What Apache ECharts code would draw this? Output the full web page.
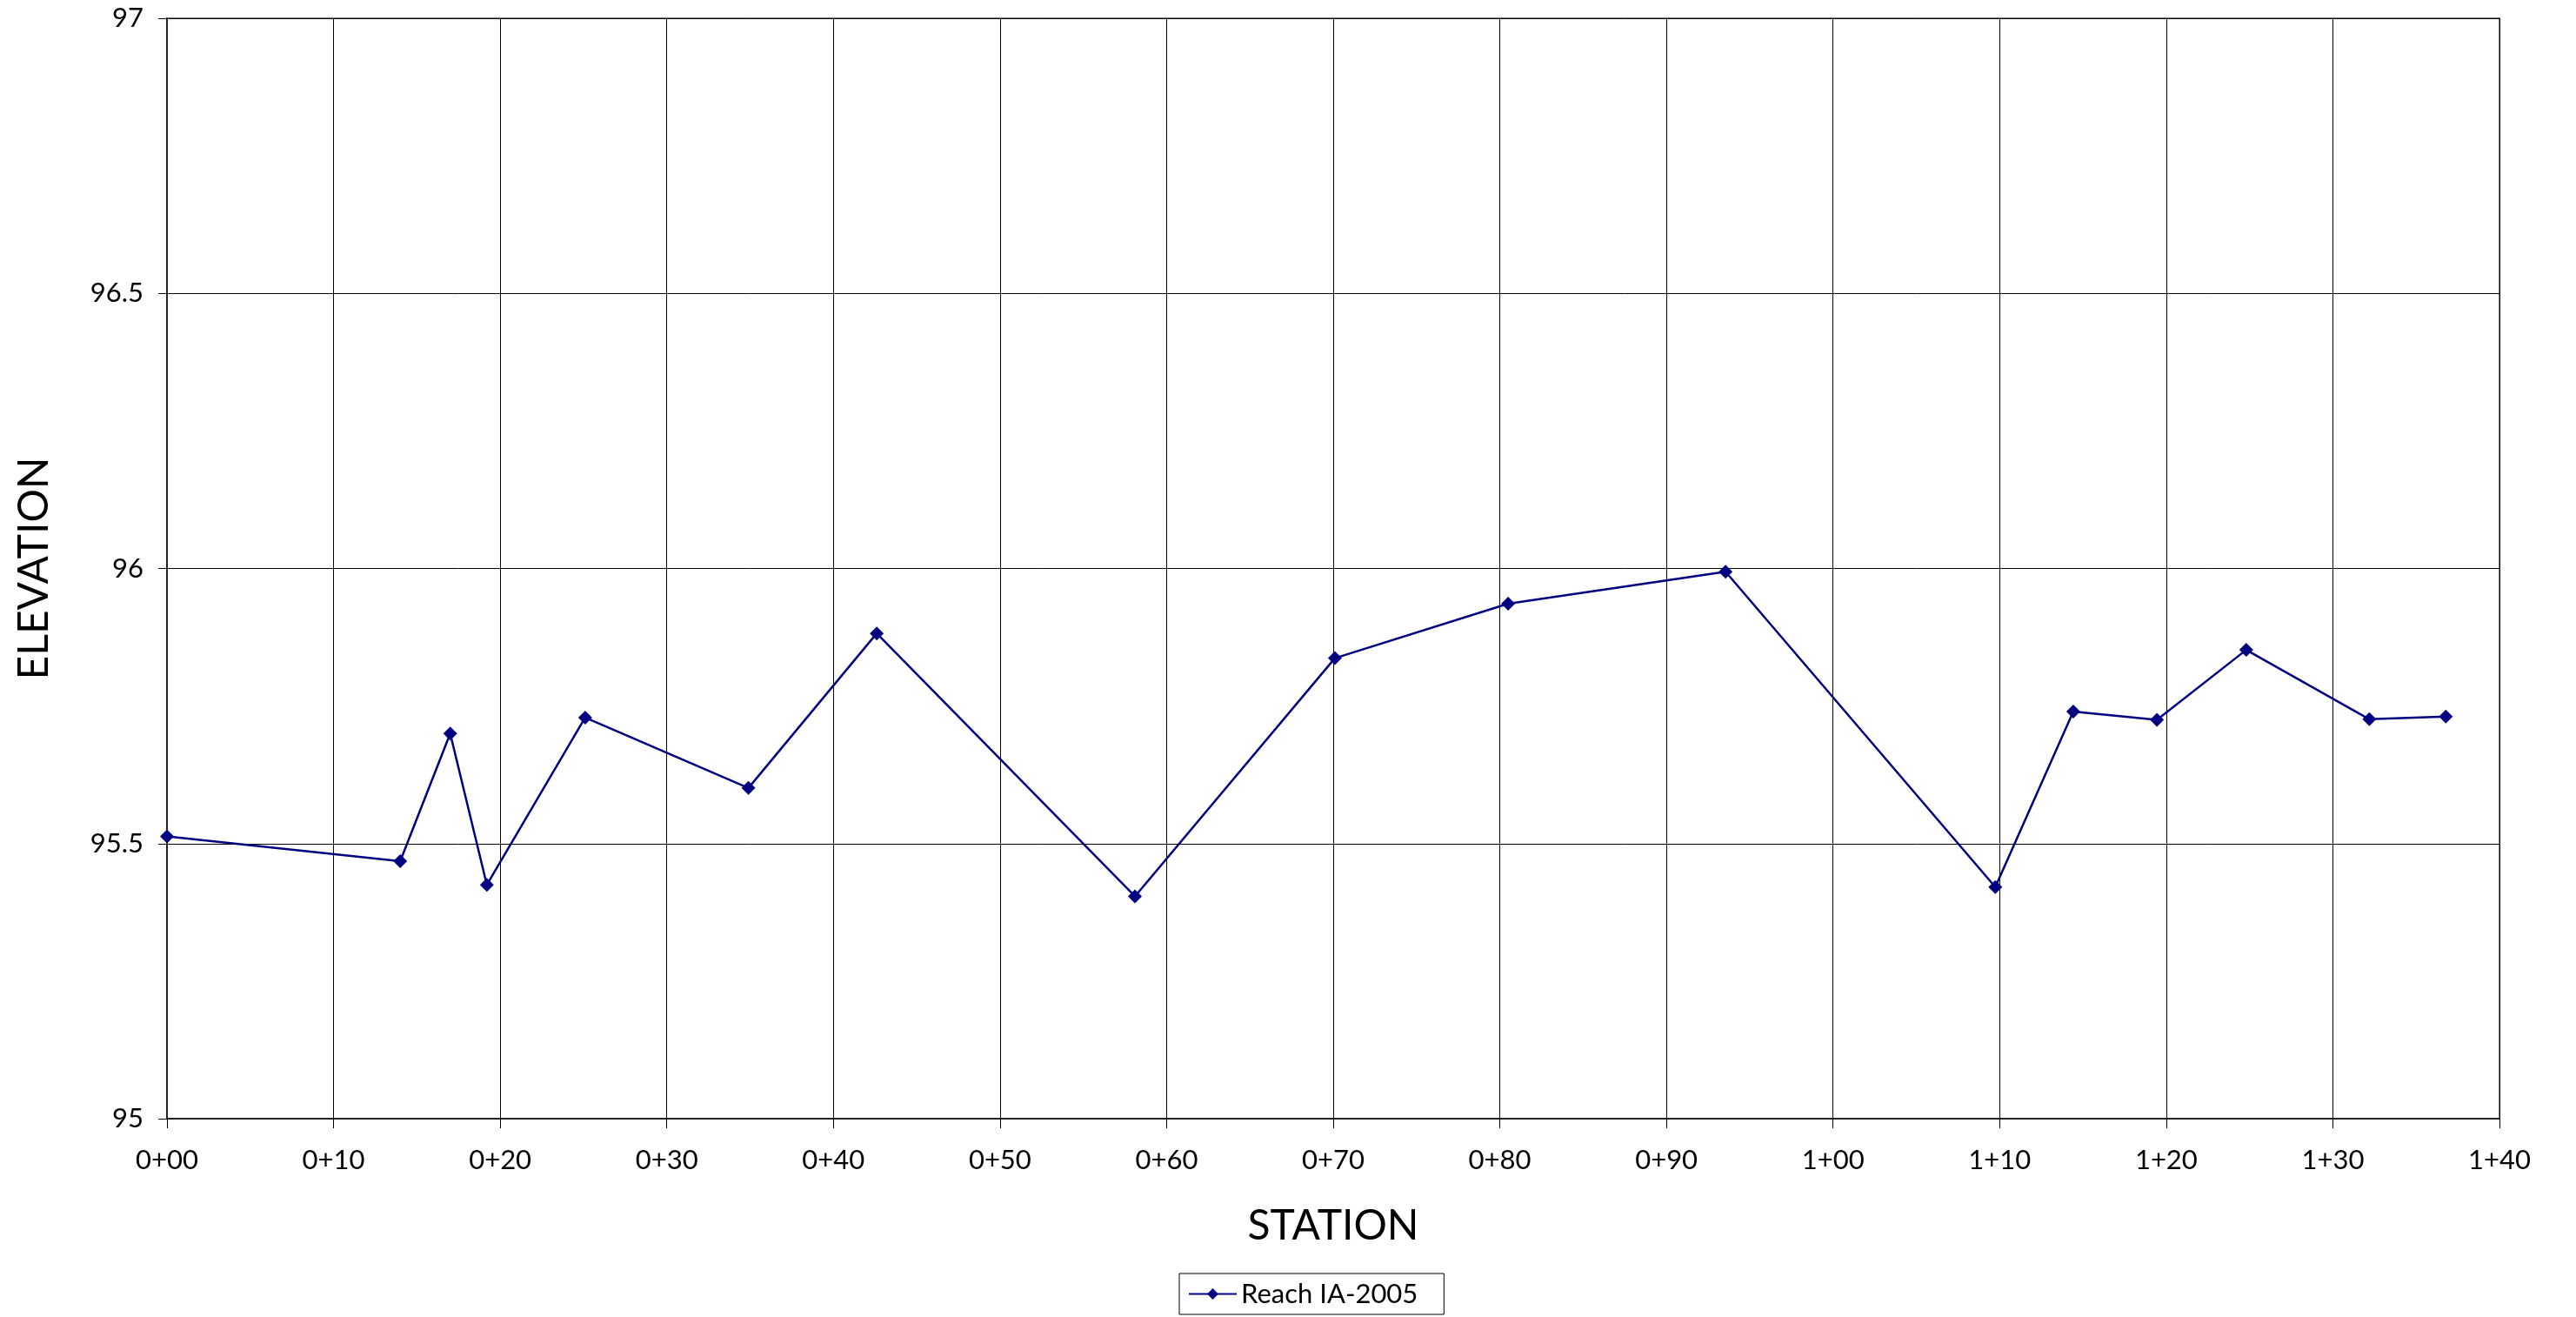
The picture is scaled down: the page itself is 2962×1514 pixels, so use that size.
<!DOCTYPE html>
<html>
<head>
<meta charset="utf-8">
<script src="https://cdn.jsdelivr.net/npm/echarts@6/dist/echarts.min.js"></script>
<style>
html,body{margin:0;padding:0;background:#fff;}
#chart{width:2962px;height:1514px;}
</style>
</head>
<body>
<div id="chart"></div>
<script>
// Data
var stations = [0, 14.0, 17.0, 19.2, 25.1, 34.9, 42.6, 58.1, 70.1, 80.5, 93.55, 109.74, 114.42, 119.44, 124.8, 132.19, 136.78];
var elevations = [95.513, 95.468, 95.700, 95.425, 95.729, 95.601, 95.882, 95.404, 95.837, 95.936, 95.994, 95.421, 95.740, 95.725, 95.852, 95.726, 95.731];
var xTickLabels = ['0+00','0+10','0+20','0+30','0+40','0+50','0+60','0+70','0+80','0+90','1+00','1+10','1+20','1+30','1+40'];
var yTickLabels = ['95','95.5','96','96.5','97'];
var seriesName = 'Reach IA-2005';

var FONT = 'Lato, "DejaVu Sans", sans-serif';
var chart = echarts.init(document.getElementById('chart'));
var pts = stations.map(function (s, i) { return [s, elevations[i]]; });

chart.setOption({
  animation: false,
  backgroundColor: '#ffffff',
  textStyle: { fontFamily: FONT, color: '#000' },
  grid: {
    left: 192, right: 88, top: 21, bottom: 228,
    show: true, borderColor: '#808080', borderWidth: 2, backgroundColor: 'transparent'
  },
  legend: {
    data: [seriesName],
    left: 1356, top: 1464,
    orient: 'horizontal',
    borderColor: '#000', borderWidth: 1, borderRadius: 0,
    padding: [8, 30, 8, 10],
    itemWidth: 55, itemHeight: 16, itemGap: 8,
    textStyle: { fontFamily: FONT, fontSize: 31, color: '#000' }
  },
  xAxis: {
    type: 'value', min: 0, max: 140, interval: 10,
    name: 'STATION', nameLocation: 'middle', nameGap: 100,
    nameTextStyle: { fontFamily: FONT, fontSize: 48, color: '#000' },
    axisLine: { show: true, onZero: false, lineStyle: { color: '#222', width: 2 } },
    axisTick: { show: true, length: 11, lineStyle: { color: '#000', width: 1 } },
    axisLabel: {
      margin: 32, fontFamily: FONT, fontSize: 31, color: '#000',
      formatter: function (v) { return xTickLabels[Math.round(v / 10)]; }
    },
    splitLine: { show: true, lineStyle: { color: '#000', width: 1 } }
  },
  yAxis: {
    type: 'value', min: 95, max: 97, interval: 0.5,
    name: 'ELEVATION', nameLocation: 'middle', nameGap: 128, nameRotate: 90,
    nameTextStyle: { fontFamily: FONT, fontSize: 48, color: '#000' },
    axisLine: { show: true, onZero: false, lineStyle: { color: '#222', width: 2 } },
    axisTick: { show: true, length: 10, lineStyle: { color: '#000', width: 1 } },
    axisLabel: {
      margin: 27, fontFamily: FONT, fontSize: 31, color: '#000',
      formatter: function (v) { return yTickLabels[Math.round((v - 95) / 0.5)]; }
    },
    splitLine: { show: true, lineStyle: { color: '#000', width: 1 } }
  },
  series: [{
    name: seriesName,
    type: 'line',
    data: pts,
    symbol: 'diamond',
    symbolSize: 16,
    showAllSymbol: true,
    lineStyle: { color: '#000080', width: 2.5 },
    itemStyle: { color: '#000080' },
    emphasis: { disabled: true }
  }]
});
</script>
</body>
</html>
